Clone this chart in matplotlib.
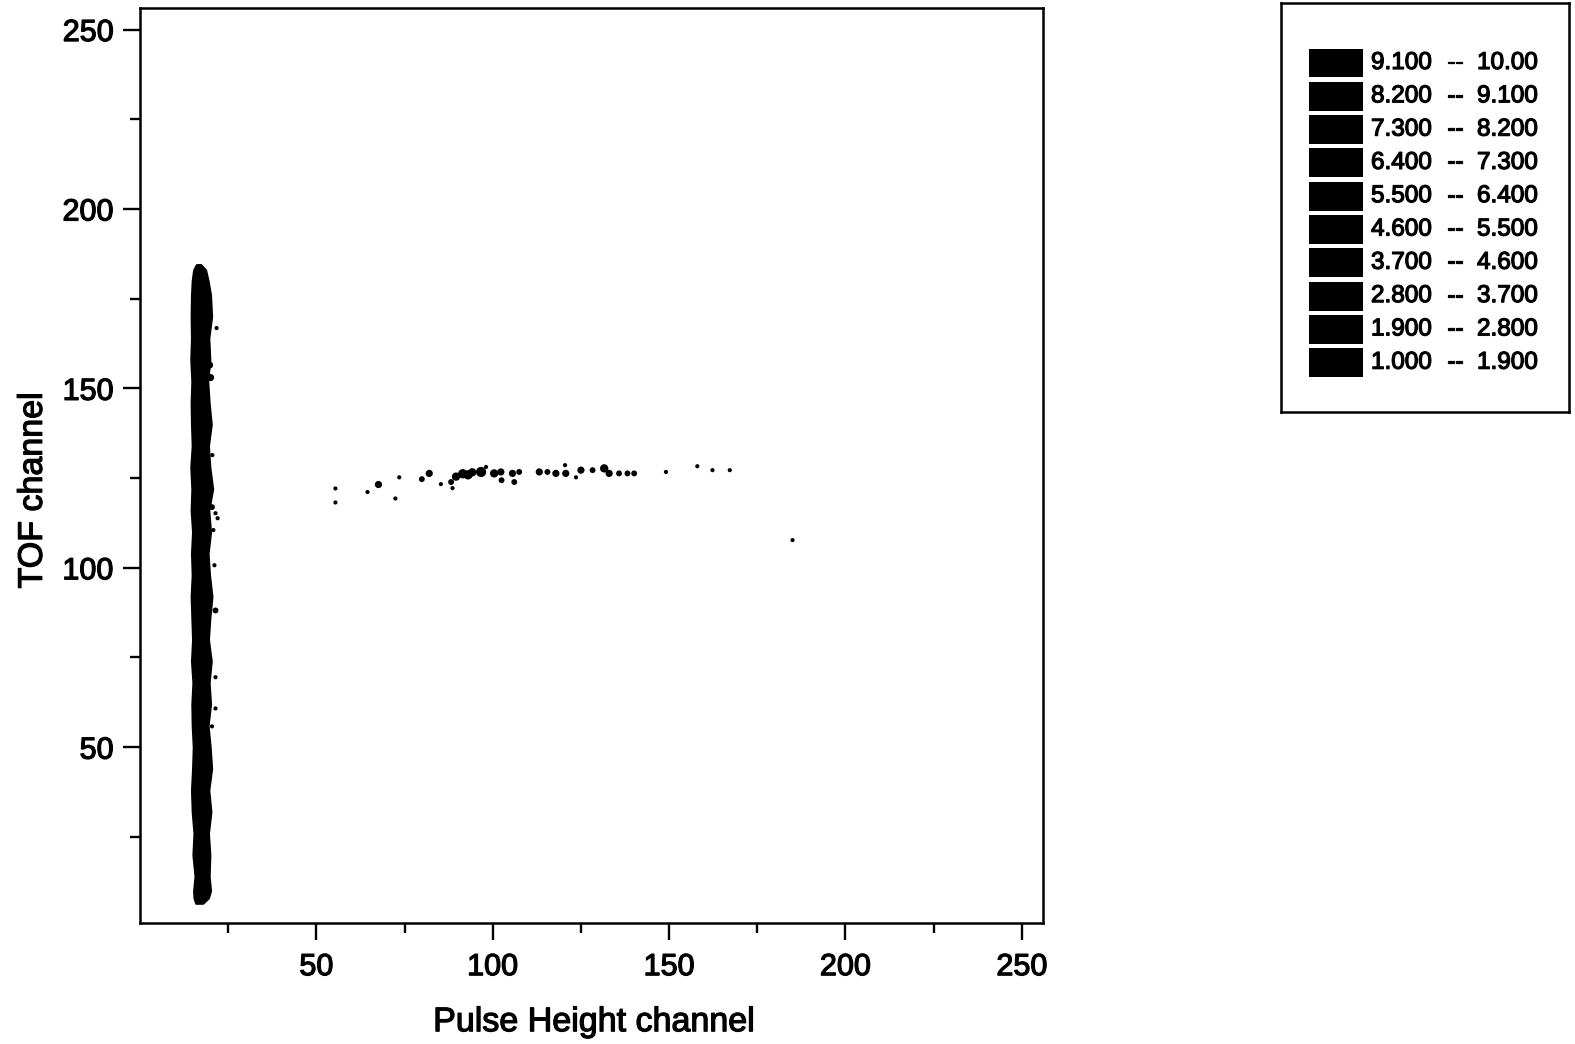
"""
TOF channel vs pulse height channel map, with the contour level key
drawn as a separate boxed panel on the right.
"""

import matplotlib
matplotlib.use("Agg")
import matplotlib.pyplot as plt
import matplotlib.patheffects as pe
import numpy as np

plt.rcParams["font.family"] = ["Liberation Sans", "DejaVu Sans"]

# ---------------------------------------------------------------------------
# Data
# ---------------------------------------------------------------------------

# Dense vertical band near pulse height ~17: outline as (TOF, left, right)
BAND_Y = [6.5, 8, 10, 14, 20, 26, 32, 38, 44, 50, 56, 62, 68, 74, 80, 86,
          92, 98, 104, 110, 116, 122, 128, 134, 140, 146, 152, 158, 164,
          170, 176, 180, 183, 184.5]
BAND_LEFT = [15.8, 15.3, 15.2, 15.6, 15.0, 15.3, 14.8, 14.6, 14.9, 15.1,
             14.8, 14.7, 15.0, 14.6, 14.9, 14.7, 14.5, 14.8, 14.6, 14.9,
             14.5, 14.7, 14.4, 14.8, 14.6, 14.5, 14.7, 14.4, 14.6, 14.5,
             14.6, 14.8, 15.2, 16.0]
BAND_RIGHT = [17.8, 19.4, 20.0, 19.6, 19.8, 19.4, 20.1, 19.5, 20.3, 19.9,
              19.3, 20.0, 19.6, 20.2, 19.4, 19.8, 20.4, 19.7, 19.3, 20.0,
              19.5, 20.6, 19.8, 19.4, 20.2, 19.6, 19.2, 19.8, 19.5, 20.3,
              20.0, 19.3, 18.6, 17.2]

# Isolated counts just right of the band
BAND_DOTS_X = [21.7, 19.7, 20.0, 20.5, 20.4, 21.4, 22.0, 20.8, 21.1, 21.4,
               21.4, 21.4, 20.4]
BAND_DOTS_Y = [166.8, 156.5, 153.0, 131.4, 116.9, 115.2, 113.8, 110.5,
               100.7, 88.1, 69.5, 60.8, 55.8]
BAND_DOTS_C = [1, 3, 3, 1, 2, 1, 1, 1, 1, 2, 1, 1, 1]

# Horizontal streak around TOF ~125
STREAK_X = [55.4, 55.4, 64.5, 67.6, 72.4, 73.5, 79.9, 82.0, 85.3, 88.2,
            88.6, 89.6, 91.5, 93.0, 94.2, 96.7, 98.1, 100.4, 102.3, 102.5,
            105.6, 106.1, 107.5, 113.2, 115.5, 117.9, 120.5, 120.7, 123.6,
            125.0, 128.3, 131.6, 133.0, 135.8, 138.2, 140.1, 149.1, 158.0,
            162.3, 167.2, 185.0]
STREAK_Y = [122.1, 118.2, 121.1, 123.2, 119.3, 125.2, 124.7, 126.3, 123.3,
            123.9, 122.2, 125.4, 126.2, 125.9, 126.6, 126.7, 128.1, 126.3,
            126.7, 124.4, 126.3, 123.9, 126.7, 126.7, 126.7, 126.3, 128.6,
            126.3, 125.2, 127.2, 127.2, 127.7, 126.3, 126.3, 126.3, 126.3,
            126.7, 128.3, 127.2, 127.2, 107.7]
STREAK_C = [1, 1, 1, 3, 1, 1, 2, 3, 1, 2, 1, 4, 5, 5, 4, 6, 1, 4, 3, 2,
            3, 2, 2, 3, 2, 3, 1, 3, 1, 3, 2, 4, 3, 2, 2, 2, 1, 1, 1, 1, 1]

# Contour level key
LEVEL_LOW = [9.1, 8.2, 7.3, 6.4, 5.5, 4.6, 3.7, 2.8, 1.9, 1.0]
LEVEL_HIGH = [10.0, 9.1, 8.2, 7.3, 6.4, 5.5, 4.6, 3.7, 2.8, 1.9]

X_TICKS = [50, 100, 150, 200, 250]
Y_TICKS = [50, 100, 150, 200, 250]


def fmt_level(v):
    return "10.00" if v >= 10 else f"{v:.3f}"


# scanned print look: thicken glyphs a little
INK = [pe.withStroke(linewidth=0.9, foreground="black")]

# ---------------------------------------------------------------------------
# Plot
# ---------------------------------------------------------------------------

fig = plt.figure(figsize=(15.75, 10.44), dpi=100)
W, H = 1575.0, 1044.0

ax = fig.add_axes([140 / W, 1 - 923 / H, 903 / W, 915 / H])
ax.fill_betweenx(BAND_Y, BAND_LEFT, BAND_RIGHT, color="black", lw=1.5,
                 edgecolor="black")
ax.scatter(BAND_DOTS_X, BAND_DOTS_Y, s=np.array(BAND_DOTS_C) * 9,
           color="black", lw=0)
ax.scatter(STREAK_X, STREAK_Y, s=np.array(STREAK_C) * 9, color="black", lw=0)

ax.set_xlim(0, 256)
ax.set_ylim(1, 256)
ax.set_xticks(X_TICKS)
ax.set_yticks(Y_TICKS)
ax.set_xticks([25, 75, 125, 175, 225], minor=True)
ax.set_yticks([25, 75, 125, 175, 225], minor=True)
ax.tick_params(which="major", direction="out", length=12, width=1.7,
               labelsize=22, pad=7)
ax.tick_params(axis="x", which="major", pad=9)
ax.tick_params(which="minor", direction="out", length=7, width=1.7)
for sp in ax.spines.values():
    sp.set_linewidth(1.8)
for lbl in ax.get_xticklabels() + ax.get_yticklabels():
    lbl.set_path_effects(INK)

ax.set_xlabel("Pulse Height channel", fontsize=24.5, path_effects=INK)
ax.set_ylabel("TOF channel", fontsize=24.5, path_effects=INK)
ax.xaxis.set_label_coords(0.503, -0.092)
ax.yaxis.set_label_coords(-0.101, 0.473)

# Level key panel (pixel units inside the box)
BOX_L, BOX_T, BOX_R, BOX_B = 1281, 3, 1569, 412
bw, bh = BOX_R - BOX_L, BOX_B - BOX_T
lax = fig.add_axes([BOX_L / W, 1 - BOX_B / H, bw / W, bh / H])
rows = np.arange(len(LEVEL_LOW))
lax.barh(rows, 54, left=28, height=0.87, color="black")
for i, (lo, hi) in enumerate(zip(LEVEL_LOW, LEVEL_HIGH)):
    lax.text(90, i, fmt_level(lo), fontsize=17.5, va="center", ha="left",
             path_effects=INK)
    lax.text(174, i, "--", fontsize=17.5, va="center", ha="center",
             path_effects=INK)
    lax.text(196, i, fmt_level(hi), fontsize=17.5, va="center", ha="left",
             path_effects=INK)
pitch, first = 33.3, 60.0
lax.set_xlim(0, bw)
lax.set_ylim((bh - first) / pitch, -first / pitch)
lax.set_xticks([])
lax.set_yticks([])
for sp in lax.spines.values():
    sp.set_linewidth(1.8)

fig.savefig("out.png", dpi=100)
plt.close(fig)
